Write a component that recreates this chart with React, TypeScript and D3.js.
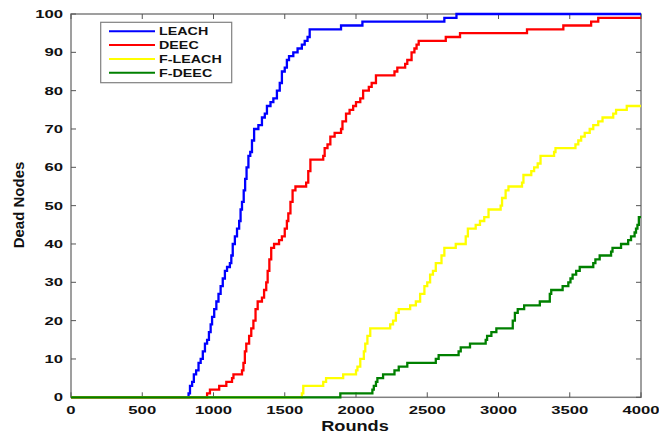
import React from 'react';
import * as d3 from 'd3';

type Pt = [number, number];

// [round, dead nodes] break points of each step curve
const leach: Pt[] = [
  [0, 0], [825, 1], [835, 3], [850, 4], [862, 6], [878, 7], [895, 9], [910, 10], [925, 12], [940, 14],
  [955, 15], [968, 17], [980, 19], [990, 21], [1005, 23], [1020, 25], [1035, 27], [1050, 29], [1065, 31],
  [1080, 33], [1095, 34], [1115, 35], [1125, 37], [1135, 40], [1150, 42], [1165, 44], [1180, 46],
  [1190, 49], [1200, 51], [1212, 54], [1222, 57], [1232, 60], [1245, 63], [1258, 64], [1270, 67],
  [1285, 70], [1315, 71], [1340, 73], [1360, 74], [1375, 76], [1400, 77], [1420, 78], [1445, 80],
  [1465, 82], [1480, 85], [1500, 86], [1515, 88], [1530, 89], [1560, 90], [1590, 91], [1620, 92],
  [1640, 93], [1660, 94], [1675, 96], [1895, 97], [2045, 98], [2620, 99], [2705, 100], [4000, 100],
];

const deec: Pt[] = [
  [0, 0], [955, 1], [975, 2], [1040, 3], [1090, 4], [1130, 5], [1140, 6], [1200, 7], [1210, 9],
  [1220, 12], [1230, 14], [1250, 16], [1265, 18], [1280, 20], [1295, 23], [1310, 25], [1340, 26],
  [1355, 28], [1370, 30], [1380, 33], [1392, 36], [1405, 39], [1425, 40], [1460, 41], [1480, 42],
  [1500, 44], [1515, 46], [1525, 48], [1540, 51], [1555, 54], [1575, 55], [1650, 56], [1665, 59],
  [1680, 62], [1770, 63], [1780, 65], [1800, 66], [1820, 68], [1850, 69], [1895, 70], [1905, 72],
  [1930, 74], [1955, 75], [1980, 76], [2000, 77], [2030, 78], [2050, 80], [2090, 81], [2110, 82],
  [2140, 84], [2270, 85], [2290, 86], [2345, 87], [2360, 88], [2390, 90], [2410, 91], [2425, 92],
  [2440, 93], [2630, 94], [2730, 95], [3200, 96], [3455, 97], [3650, 98], [3700, 99], [4000, 99],
];

const fLeach: Pt[] = [
  [0, 0], [1620, 1], [1630, 3], [1770, 4], [1790, 5], [1910, 6], [2000, 7], [2010, 8], [2030, 10],
  [2055, 12], [2065, 14], [2080, 16], [2100, 18], [2240, 19], [2260, 20], [2280, 22], [2300, 23],
  [2380, 24], [2420, 25], [2450, 27], [2480, 29], [2500, 30], [2520, 32], [2540, 33], [2560, 35],
  [2600, 37], [2620, 39], [2700, 40], [2770, 42], [2785, 44], [2840, 45], [2870, 46], [2900, 47],
  [2930, 49], [3015, 50], [3025, 52], [3050, 54], [3070, 55], [3165, 56], [3175, 58], [3230, 59],
  [3250, 60], [3275, 61], [3295, 63], [3390, 64], [3400, 65], [3540, 66], [3560, 67], [3580, 68],
  [3605, 69], [3640, 70], [3665, 71], [3700, 72], [3730, 73], [3805, 74], [3825, 75], [3900, 76],
  [4000, 76],
];

const fDeec: Pt[] = [
  [0, 0], [1890, 1], [2115, 2], [2125, 3], [2140, 4], [2150, 5], [2190, 6], [2270, 7], [2300, 8],
  [2360, 9], [2560, 10], [2580, 11], [2720, 12], [2735, 13], [2800, 14], [2910, 15], [2920, 16],
  [2950, 17], [2985, 18], [3100, 20], [3115, 22], [3135, 23], [3180, 24], [3290, 25], [3360, 27],
  [3370, 28], [3450, 29], [3490, 30], [3505, 31], [3520, 32], [3545, 33], [3570, 34], [3665, 35],
  [3680, 36], [3710, 37], [3790, 38], [3800, 39], [3860, 40], [3910, 41], [3930, 42], [3955, 43],
  [3965, 44], [3975, 45], [3985, 47], [4000, 47],
];

const seriesNames = ['LEACH', 'DEEC', 'F-LEACH', 'F-DEEC'];
const seriesColors = ['#0000ff', '#ff0000', '#ffff00', '#008000'];
const seriesData = [leach, deec, fLeach, fDeec];

const xTickValues = [0, 500, 1000, 1500, 2000, 2500, 3000, 3500, 4000];
const yTickValues = [0, 10, 20, 30, 40, 50, 60, 70, 80, 90, 100];

const FONT = '"Liberation Sans", Arial, sans-serif';

const App: React.FC = () => {
  const width = 659;
  const height = 435;
  const left = 71, right = 641, top = 14, bottom = 397.3;

  const x = d3.scaleLinear().domain([0, 4000]).range([left, right]);
  const y = d3.scaleLinear().domain([0, 100]).range([bottom, top]);

  const line = d3.line<Pt>()
    .x(d => x(d[0]))
    .y(d => y(d[1]))
    .curve(d3.curveStepAfter);

  const tickLen = 5;
  const axisColor = '#808080';

  return (
    <svg width={width} height={height}
      style={{ position: 'absolute', left: 0, top: 0, background: '#fff' }}>
      {/* frame */}
      <rect x={left} y={top} width={right - left} height={bottom - top}
        fill="none" stroke={axisColor} strokeWidth={1.5} />

      {/* x ticks, bottom and top, inward */}
      {xTickValues.map(t => (
        <g key={'x' + t}>
          <line x1={x(t)} x2={x(t)} y1={bottom} y2={bottom - tickLen} stroke="#555" />
          <line x1={x(t)} x2={x(t)} y1={top} y2={top + tickLen} stroke="#555" />
          <text transform={`translate(${x(t)},${414}) scale(1.45,1)`} textAnchor="middle"
            fontFamily={FONT} fontWeight="bold" fontSize={11.5} fill="#111">{t}</text>
        </g>
      ))}

      {/* y ticks, left and right, inward */}
      {yTickValues.map(t => (
        <g key={'y' + t}>
          <line x1={left} x2={left + tickLen} y1={y(t)} y2={y(t)} stroke="#555" />
          <line x1={right} x2={right - tickLen} y1={y(t)} y2={y(t)} stroke="#555" />
          <text transform={`translate(${63},${y(t) + 4}) scale(1.45,1)`} textAnchor="end"
            fontFamily={FONT} fontWeight="bold" fontSize={11.5} fill="#111">{t}</text>
        </g>
      ))}

      {/* axis titles */}
      <text transform={`translate(355,431) scale(1.3,1)`} textAnchor="middle"
        fontFamily={FONT} fontWeight="bold" fontSize={14} fill="#111">Rounds</text>
      <text transform={`translate(24,205) rotate(-90)`} textAnchor="middle"
        fontFamily={FONT} fontWeight="bold" fontSize={15} fill="#111">Dead Nodes</text>

      {/* series */}
      {seriesData.map((d, i) => (
        <path key={seriesNames[i]} d={line(d) ?? ''} fill="none"
          stroke={seriesColors[i]} strokeWidth={2.3} />
      ))}

      {/* legend */}
      <g>
        <rect x={100.7} y={22.3} width={131} height={60.4} fill="#fff" stroke={axisColor} strokeWidth={1.2} />
        {seriesNames.map((name, i) => (
          <g key={'lg' + name} transform={`translate(0,${31.3 + i * 13.8})`}>
            <line x1={109} x2={155} y1={0} y2={0} stroke={seriesColors[i]} strokeWidth={2} />
            <text transform={`translate(159,4) scale(1.3,1)`} fontFamily={FONT} fontWeight="bold"
              fontSize={11} fill="#111">{name}</text>
          </g>
        ))}
      </g>
    </svg>
  );
};

export default App;
